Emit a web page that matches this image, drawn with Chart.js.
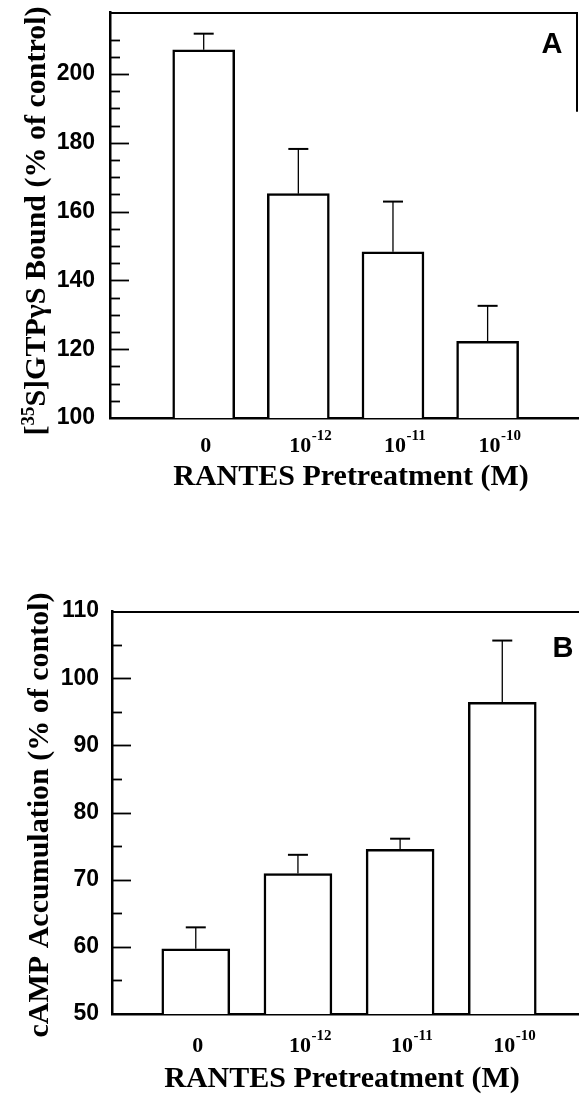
<!DOCTYPE html>
<html>
<head>
<meta charset="utf-8">
<script src="https://cdn.jsdelivr.net/npm/chart.js@4.4.1/dist/chart.umd.min.js"></script>
<style>
html,body{margin:0;padding:0;background:#fff;}
body{width:579px;height:1099px;position:relative;overflow:hidden;}
.wrap{position:absolute;left:0;width:579px;}
#wa{top:0;height:500px;}
#wb{top:560px;height:539px;}
canvas{display:block;}
</style>
</head>
<body>
<div class="wrap" id="wa"><canvas id="ca" width="579" height="500"></canvas></div>
<div class="wrap" id="wb"><canvas id="cb" width="579" height="539"></canvas></div>
<script>
// ---- data ----
const catBase = ["0", "10", "10", "10"];
const catExp = ["", "-12", "-11", "-10"];
const catPos = [1, 2, 3, 4];
const gtpValues = [207.0, 165.2, 148.3, 122.3];
const gtpErrors = [4.7, 13.0, 14.6, 10.3];
const campValues = [59.7, 70.9, 74.5, 96.4];
const campErrors = [3.2, 2.8, 1.6, 9.2];
const gtpTicks = [100, 120, 140, 160, 180, 200];
const campTicks = [50, 60, 70, 80, 90, 100, 110];
const gtpTitle = [["[", false], ["35", true], ["S]GTPγS Bound (% of control)", false]];
const campTitle = [["cAMP Accumulation (% of contol)", false]];
const xTitle = "RANTES Pretreatment (M)";

const SERIF = '"Liberation Serif", "Times New Roman", serif';
const SANS = '"Liberation Sans", Arial, sans-serif';

function panelPlugin(cfg) {
  return {
    id: 'panel' + cfg.letter,
    afterDatasetsDraw(chart) {
      const ctx = chart.ctx, area = chart.chartArea;
      const xs = chart.scales.x, ys = chart.scales.y;
      ctx.save();
      ctx.strokeStyle = '#000';
      ctx.fillStyle = '#000';
      ctx.lineCap = 'butt';
      // error bars
      const meta = chart.getDatasetMeta(0);
      meta.data.forEach((el, i) => {
        const yt = ys.getPixelForValue(cfg.values[i] + cfg.errors[i]);
        ctx.lineWidth = 1.3;
        ctx.beginPath(); ctx.moveTo(el.x, el.y); ctx.lineTo(el.x, yt); ctx.stroke();
        ctx.lineWidth = 2;
        ctx.beginPath(); ctx.moveTo(el.x - 10, yt); ctx.lineTo(el.x + 10, yt); ctx.stroke();
      });
      // inward ticks
      ys.ticks.forEach(t => {
        const v = t.value;
        if (v <= ys.min + 1e-6 || v >= ys.max - 1e-6) return;
        if (Math.abs(v / 5 - Math.round(v / 5)) > 1e-6) return;
        const major = cfg.majorTicks.includes(v);
        const py = Math.round(ys.getPixelForValue(v)) + 0.5;
        ctx.lineWidth = 1.8;
        ctx.beginPath(); ctx.moveTo(area.left, py); ctx.lineTo(area.left + (major ? 19 : 10), py); ctx.stroke();
      });
      // frame
      ctx.lineWidth = 2;
      ctx.beginPath(); ctx.moveTo(area.left, area.top + 1); ctx.lineTo(area.right, area.top + 1); ctx.stroke();
      if (cfg.rightBorderTo !== null) {
        ctx.beginPath(); ctx.moveTo(area.right - 1, area.top); ctx.lineTo(area.right - 1, ys.getPixelForValue(cfg.rightBorderTo)); ctx.stroke();
      }
      // panel letter
      ctx.font = 'bold 29px ' + SANS;
      ctx.textAlign = 'center';
      ctx.textBaseline = 'alphabetic';
      ctx.fillText(cfg.letter, cfg.letterX, cfg.letterY);
      // x tick labels
      catPos.forEach((p, i) => {
        const x = xs.getPixelForValue(p) + 2;
        ctx.font = 'bold 22px ' + SERIF;
        ctx.textAlign = 'center';
        ctx.fillText(catBase[i], x, cfg.xLabelY);
        if (catExp[i]) {
          const wb = ctx.measureText(catBase[i]).width;
          ctx.font = 'bold 15px ' + SERIF;
          ctx.textAlign = 'left';
          ctx.fillText(catExp[i], x + wb / 2 + 0.5, cfg.xLabelY - 12);
        }
      });
      // x title
      ctx.font = 'bold 30px ' + SERIF;
      ctx.textAlign = 'center';
      ctx.fillText(xTitle, cfg.xTitleX, cfg.xTitleY);
      // y title (rotated, rich text)
      ctx.translate(cfg.yTitleX, cfg.yTitleY);
      ctx.rotate(-Math.PI / 2);
      ctx.textAlign = 'left';
      let total = 0;
      cfg.yTitle.forEach(([t, sup]) => {
        ctx.font = 'bold ' + (sup ? 19 : 30) + 'px ' + SERIF;
        total += ctx.measureText(t).width;
      });
      let cx = -total / 2;
      cfg.yTitle.forEach(([t, sup]) => {
        ctx.font = 'bold ' + (sup ? 19 : 30) + 'px ' + SERIF;
        ctx.fillText(t, cx, sup ? -11 : 0);
        cx += ctx.measureText(t).width;
      });
      ctx.restore();
    }
  };
}

function makeChart(id, cfg) {
  const data = catPos.map((p, i) => ({x: p, y: cfg.values[i]}));
  return new Chart(document.getElementById(id), {
    type: 'bar',
    data: {
      datasets: [{
        data: data,
        backgroundColor: '#fff',
        borderColor: '#000',
        borderWidth: 2.5,
        borderSkipped: 'start',
        barThickness: cfg.barThickness
      }]
    },
    options: {
      responsive: false,
      devicePixelRatio: 1,
      animation: false,
      events: [],
      layout: {padding: {top: cfg.padTop, right: cfg.padRight, left: 0, bottom: 0}},
      plugins: {legend: {display: false}, tooltip: {enabled: false}, title: {display: false}},
      scales: {
        x: {
          type: 'linear',
          min: cfg.xMin,
          max: cfg.xMax,
          offset: false,
          grid: {display: false, drawTicks: false},
          ticks: {display: false},
          border: {display: true, color: '#000', width: 2.5},
          afterFit: s => { s.height = cfg.xHeight; s.paddingLeft = 0; s.paddingRight = 0; }
        },
        y: {
          type: 'linear',
          min: cfg.yMin,
          max: cfg.yMax,
          grid: {display: false, drawTicks: false},
          border: {display: true, color: '#000', width: 2.5},
          ticks: {
            stepSize: 5,
            autoSkip: false,
            padding: cfg.tickPad,
            color: '#000',
            font: {family: SANS, size: 23, weight: 'bold'},
            callback: v => cfg.majorTicks.includes(v) ? String(v) : ''
          },
          afterFit: s => { s.width = cfg.yWidth; s.paddingTop = 0; s.paddingBottom = 0; }
        }
      }
    },
    plugins: [panelPlugin(cfg)]
  });
}

makeChart('ca', {
  letter: 'A', values: gtpValues, errors: gtpErrors, majorTicks: gtpTicks,
  yMin: 100, yMax: 218, xMin: 0.01, xMax: 4.955,
  barThickness: 62, padTop: 12, padRight: 1, xHeight: 82, yWidth: 110, tickPad: 15,
  rightBorderTo: 189, letterX: 552, letterY: 53,
  xLabelY: 452, xTitleX: 351, xTitleY: 485,
  yTitle: gtpTitle, yTitleX: 45, yTitleY: 221
});

makeChart('cb', {
  letter: 'B', values: campValues, errors: campErrors, majorTicks: campTicks,
  yMin: 50, yMax: 110, xMin: 0.18, xMax: 4.751,
  barThickness: 68, padTop: 51, padRight: 0, xHeight: 85, yWidth: 112, tickPad: 13,
  rightBorderTo: null, letterX: 563, letterY: 97,
  xLabelY: 492, xTitleX: 342, xTitleY: 527,
  yTitle: campTitle, yTitleX: 48, yTitleY: 255
});
</script>
</body>
</html>
